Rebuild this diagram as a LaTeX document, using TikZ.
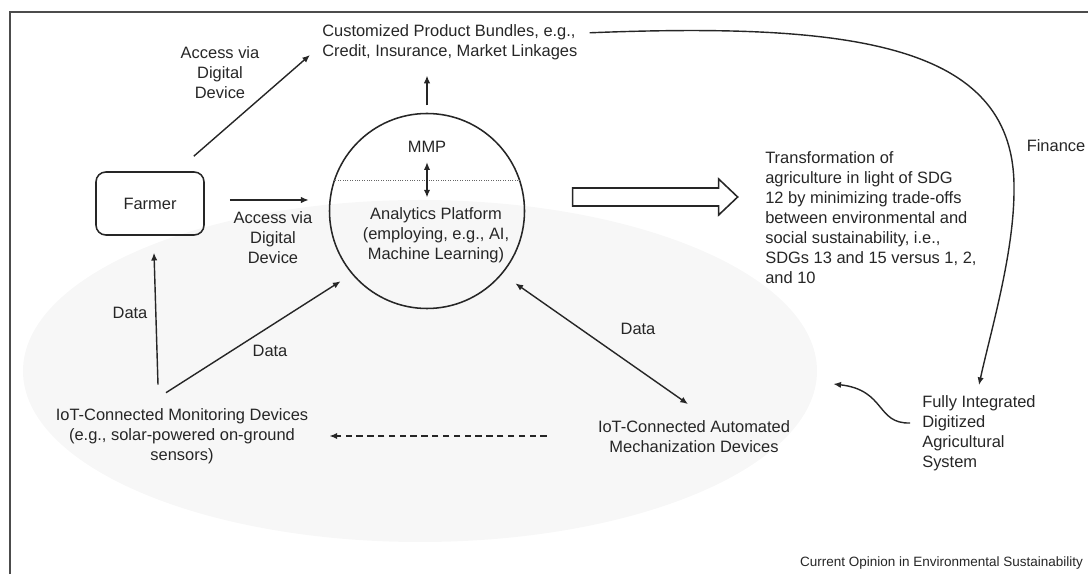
\documentclass[tikz,border=0pt]{standalone}
\usepackage{fontspec}
\setmainfont{Liberation Sans}
\usepackage{tikz}
\usetikzlibrary{shapes.geometric, arrows, arrows.meta, positioning, calc}

\begin{document}
\begin{tikzpicture}[
        >={Latex[length=5.5pt, width=4.5pt]},
        font=\fontsize{11.7}{14.2}\selectfont,
        every node/.style={text=black!85},
        farmerbox/.style={rectangle, rounded corners=7pt, draw=black!85, line width=1.1pt, minimum width=2.7cm, minimum height=1.575cm},
        platform/.style={circle, draw=black!85, line width=1.1pt, minimum size=4.875cm, inner sep=0pt},
        lbl/.style={inner sep=0pt, align=center},
        txt/.style={inner sep=0pt, align=left, anchor=west},
        link/.style={->, draw=black!85, line width=1pt}
    ]

    \useasboundingbox (0,0) rectangle (27.2,14.35);

    % 1. Shaded IoT area and outer frame
    \node[ellipse, fill=black!3, minimum width=19.85cm, minimum height=8.55cm, inner sep=0pt] (iot) at (10.5,5.075) {};
    \draw[black!70, line width=0.9pt] (0.25,0) -- (0.25,14.05) -- (27.2,14.05);

    % 2. Main blocks
    \node[farmerbox] (farmer) at (3.75,9.2625) {Farmer};
    \node[platform] (plat) at (10.675,9.075) {};
    \draw[black!60, densely dotted, line width=0.7pt] (plat.18) -- (plat.162);
    \node[lbl] (mmp) at (10.675,10.675) {MMP};
    \node[lbl] (analytics) at (10.9,8.475) {Analytics Platform\\(employing, e.g., AI,\\Machine Learning)};

    \node[txt] (bundles) at (8.05,13.29) {Customized Product Bundles, e.g.,\\Credit, Insurance, Market Linkages};
    \node[lbl] (monitor) at (4.55,3.44) {IoT-Connected Monitoring Devices\\(e.g., solar-powered on-ground\\sensors)};
    \node[lbl] (auto) at (17.35,3.425) {IoT-Connected Automated\\Mechanization Devices};
    \node[txt] (transform) at (19.125,8.9) {Transformation of\\agriculture in light of SDG\\12 by minimizing trade-offs\\between environmental and\\social sustainability, i.e.,\\SDGs 13 and 15 versus 1, 2,\\and 10};
    \node[txt] (fidas) at (23.05,3.525) {Fully Integrated\\Digitized\\Agricultural\\System};

    % Labels
    \node[lbl] (acc1) at (5.5,12.525) {Access via\\Digital\\Device};
    \node[lbl] (acc2) at (6.825,8.4) {Access via\\Digital\\Device};
    \node[lbl] (data1) at (3.25,6.525) {Data};
    \node[lbl] (data2) at (6.75,5.575) {Data};
    \node[lbl] (data3) at (15.95,6.125) {Data};
    \node[lbl] (finance) at (26.4,10.7) {Finance};
    \node[lbl, anchor=east, font=\fontsize{9.6}{11}\selectfont] (source) at (27.08,0.28) {Current Opinion in Environmental Sustainability};

    % 3. Arrows
    % Farmer access
    \draw[link] ([shift={(-0.275,0.375)}]farmer.north east) -- ([shift={(-0.3,-0.315)}]bundles.west);
    \draw[link] ([shift={(0.625,0.0875)}]farmer.east) -- ([shift={(-0.5,0.275)}]plat.west);
    \draw[link] ([yshift=0.185cm]plat.north) -- ([yshift=-0.38cm]bundles.south -| plat.north);
    \draw[link, <->] ([yshift=-0.23cm]mmp.south) -- ([yshift=0.24cm]analytics.north -| mmp.south);

    % Data flows
    \draw[link] ([shift={(-0.6,0.595)}]monitor.north) -- ([shift={(0.1,-0.425)}]farmer.south);
    \draw[link, shorten >=0.33cm] ([shift={(-0.4,0.395)}]monitor.north) -- (plat.220);
    \draw[link, <->, shorten <=0.4cm] (plat.-40) -- ([shift={(-0.15,0.415)}]auto.north);
    \draw[link, dash pattern=on 4.5pt off 3.2pt] ([shift={(-1.275,0.025)}]auto.west) -- ([shift={(0.525,0.01)}]monitor.east);

    % Hollow arrow towards the transformation
    \draw[black!85, line width=1.1pt, fill=white] ([shift={(1.185,0.575)}]plat.east) -- ++(3.65,0) -- ++(0,0.225) -- ++(0.475,-0.45) -- ++(-0.475,-0.45) -- ++(0,0.225) -- ++(-3.65,0) -- cycle;

    % Finance loop and feedback
    \draw[link] ([shift={(0.3,0.24)}]bundles.east) .. controls (21.5,13.8) and (25.4,13.2) .. (25.35,9.6) .. controls (25.35,8.0) and (24.75,6.0) .. ([yshift=0.25cm]fidas.north);
    \draw[link] ([shift={(-0.3,0.25)}]fidas.west) .. controls (21.9,3.75) and (22.15,4.6) .. ([shift={(0.4,-0.325)}]iot.east);

\end{tikzpicture}
\end{document}
